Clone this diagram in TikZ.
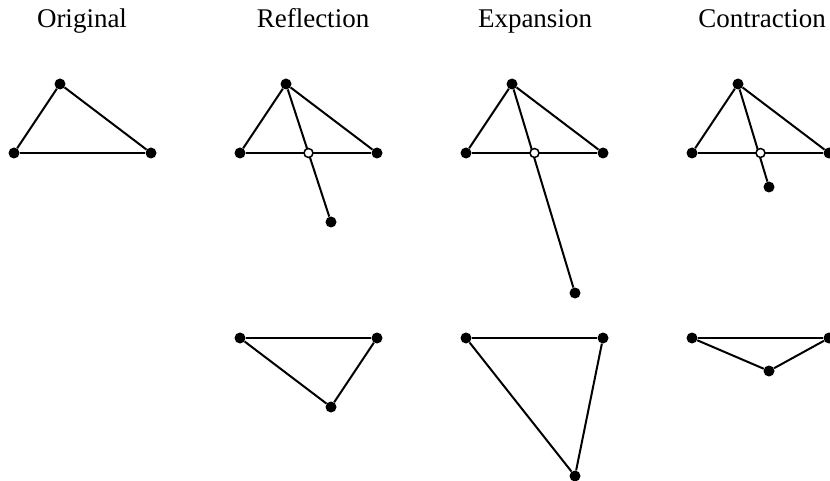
\documentclass[tikz,border=0pt]{standalone}
\usepackage{fontspec}
\setmainfont{Liberation Serif}
\usetikzlibrary{positioning}
\tikzset{
  vtx/.style ={circle, fill=black, inner sep=0pt, minimum size=11pt},
  ctr/.style ={circle, draw=black, fill=white, line width=1.5pt, inner sep=0pt, minimum size=9pt},
  side/.style ={line width=2pt, draw=black},
  ttl/.style ={font=\fontsize{27}{32}\selectfont, inner sep=0pt, anchor=base},
}

\begin{document}
\begin{tikzpicture}[x=1pt, y=-1pt]
\useasboundingbox (0,0) rectangle (830,481);
% titles
\node[ttl] (t1) at (82,28) {Original};
\node[ttl] (t2) at (313,28) {Reflection};
\node[ttl] (t3) at (535,28) {Expansion};
\node[ttl] (t4) at (762,28) {Contraction};
% original
\node[vtx] (ot) at (60,84) {};
\node[vtx] (ol) at (14,153) {};
\node[vtx] (or) at (151,153) {};
\foreach \x/\y in {ot/ol,ol/or,or/ot} \draw[side] (\x) -- (\y);
% reflection
\node[vtx] (rt) at (286,84) {};
\node[vtx] (rl) at (240,153) {};
\node[vtx] (rr) at (377,153) {};
\node[vtx] (rp) at (331,222) {};
\foreach \x/\y in {rt/rl,rl/rr,rr/rt,rt/rp} \draw[side] (\x) -- (\y);
\node[ctr] (rm) at (308.5,153) {};
\node[vtx] (rbl) at (240,338) {};
\node[vtx] (rbr) at (377,338) {};
\node[vtx] (rbp) at (331,407) {};
\foreach \x/\y in {rbl/rbr,rbr/rbp,rbp/rbl} \draw[side] (\x) -- (\y);
% expansion
\node[vtx] (et) at (512,84) {};
\node[vtx] (el) at (466,153) {};
\node[vtx] (er) at (603,153) {};
\node[vtx] (ep) at (575,293) {};
\foreach \x/\y in {et/el,el/er,er/et,et/ep} \draw[side] (\x) -- (\y);
\node[ctr] (em) at (534.5,153) {};
\node[vtx] (ebl) at (466,338) {};
\node[vtx] (ebr) at (603,338) {};
\node[vtx] (ebp) at (575,476) {};
\foreach \x/\y in {ebl/ebr,ebr/ebp,ebp/ebl} \draw[side] (\x) -- (\y);
% contraction
\node[vtx] (ct) at (738,84) {};
\node[vtx] (cl) at (692,153) {};
\node[vtx] (cr) at (829,153) {};
\node[vtx] (cp) at (769,187) {};
\foreach \x/\y in {ct/cl,cl/cr,cr/ct,ct/cp} \draw[side] (\x) -- (\y);
\node[ctr] (cm) at (760.5,153) {};
\node[vtx] (cbl) at (692,338) {};
\node[vtx] (cbr) at (829,338) {};
\node[vtx] (cbp) at (769,371) {};
\foreach \x/\y in {cbl/cbr,cbr/cbp,cbp/cbl} \draw[side] (\x) -- (\y);
\end{tikzpicture}
\end{document}
